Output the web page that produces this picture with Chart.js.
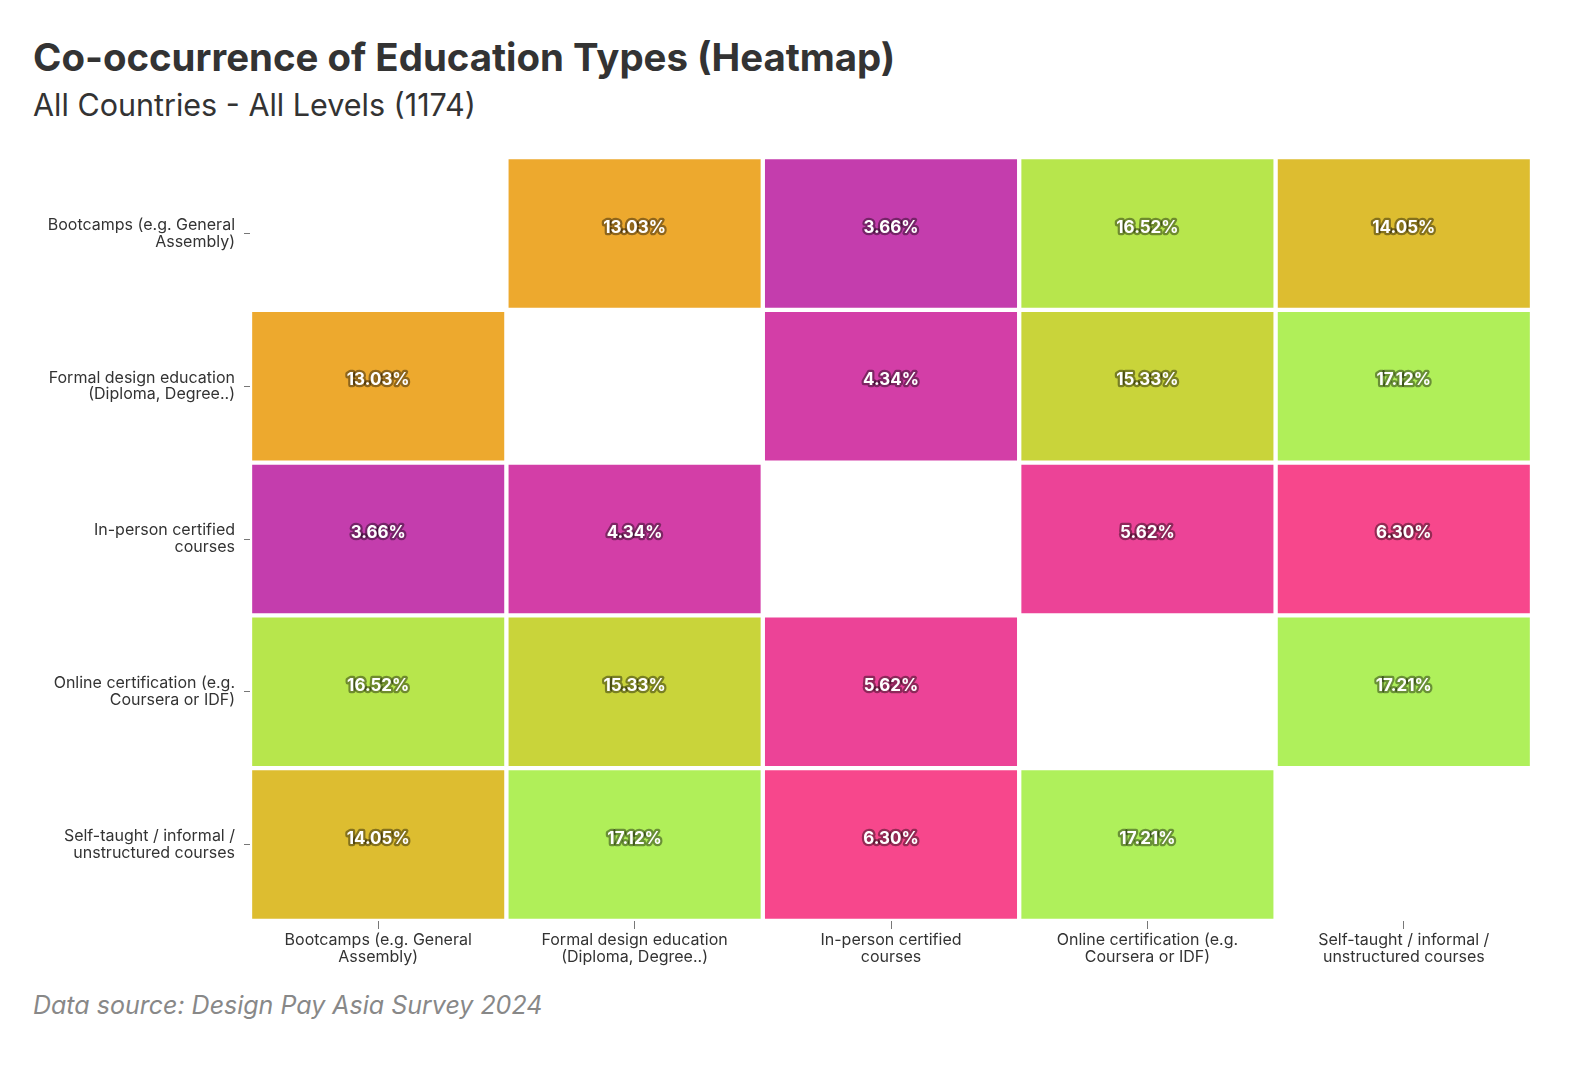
<!DOCTYPE html>
<html>
<head>
<meta charset="utf-8">
<script src="https://cdn.jsdelivr.net/npm/chart.js@4"></script>
<style>
  body { margin: 0; background: #fff; width: 1590px; height: 1084px; position: relative; overflow: hidden; font-family: Inter, "Noto Sans", sans-serif; }
  .txt { position: absolute; left: 33px; white-space: nowrap; line-height: 1; }
  #titulo { top: 38px; font-size: 38.4px; font-weight: 700; color: #333; }
  #subtitulo { top: 90px; font-size: 30.5px; color: #333; }
  #fuente { top: 993px; font-size: 25px; font-style: italic; color: #888; }
  #lienzo { position: absolute; left: 0; top: 140px; }
</style>
</head>
<body>
<div id="titulo" class="txt">Co-occurrence of Education Types (Heatmap)</div>
<div id="subtitulo" class="txt">All Countries - All Levels (1174)</div>
<canvas id="lienzo" width="1590" height="850"></canvas>
<div id="fuente" class="txt">Data source: Design Pay Asia Survey 2024</div>

<script>
// categorias (filas y columnas son las mismas)
const categorias = [
  'Bootcamps (e.g. General Assembly)',
  'Formal design education (Diploma, Degree..)',
  'In-person certified courses',
  'Online certification (e.g. Coursera or IDF)',
  'Self-taught / informal / unstructured courses'
];

// porcentajes de co-ocurrencia, una fila por categoria (null = diagonal)
const filaBootcamps = [null, 13.03, 3.66, 16.52, 14.05];
const filaFormal    = [13.03, null, 4.34, 15.33, 17.12];
const filaPresencial = [3.66, 4.34, null, 5.62, 6.30];
const filaOnline    = [16.52, 15.33, 5.62, null, 17.21];
const filaAutodidacta = [14.05, 17.12, 6.30, 17.21, null];

const filas = [filaBootcamps, filaFormal, filaPresencial, filaOnline, filaAutodidacta];

// partir etiquetas en dos lineas
function partir(texto, max) {
  const palabras = texto.split(' ');
  const lineas = [];
  let actual = '';
  palabras.forEach(p => {
    if (actual && (actual + ' ' + p).length > max) {
      lineas.push(actual);
      actual = p;
    } else {
      actual = actual ? actual + ' ' + p : p;
    }
  });
  if (actual) lineas.push(actual);
  return lineas;
}

// escala de color tipo d3.interpolateRainbow (cubehelix)
function arcoiris(t) {
  const ts = Math.abs(t - 0.5);
  const h = (360 * t - 100 + 120) * Math.PI / 180;
  const s = 1.5 - 1.5 * ts;
  const l = 0.8 - 0.9 * ts;
  const a = s * l * (1 - l);
  const c = Math.cos(h), sn = Math.sin(h);
  const lim = v => Math.max(0, Math.min(255, Math.round(v)));
  const r = lim(255 * (l + a * (-0.14861 * c + 1.78277 * sn)));
  const g = lim(255 * (l + a * (-0.29227 * c - 0.90649 * sn)));
  const b = lim(255 * (l + a * (1.97294 * c)));
  return `rgb(${r}, ${g}, ${b})`;
}

const maximo = Math.max(...filas.flat().filter(v => v != null));
const colorDe = v => arcoiris(v / (2 * maximo));

const datasets = filas.map((fila, i) => ({
  label: categorias[i],
  data: fila.map(v => v == null ? null : [i, i + 1]),
  valores: fila,
  backgroundColor: fila.map(v => v == null ? 'rgba(0,0,0,0)' : colorDe(v)),
  borderColor: '#fff',
  borderWidth: 2.5,
  borderSkipped: false,
  barPercentage: 1,
  categoryPercentage: 1,
  grouped: false
}));

// etiquetas dentro de cada celda
const etiquetasCeldas = {
  id: 'etiquetasCeldas',
  afterDatasetsDraw(chart) {
    const ctx = chart.ctx;
    ctx.save();
    ctx.font = 'bold 17px Inter, "Noto Sans", sans-serif';
    ctx.textAlign = 'center';
    ctx.textBaseline = 'middle';
    ctx.lineJoin = 'round';
    chart.data.datasets.forEach((ds, i) => {
      const meta = chart.getDatasetMeta(i);
      meta.data.forEach((barra, j) => {
        const v = ds.valores[j];
        if (v == null) return;
        const texto = v.toFixed(2) + '%';
        const y = (barra.y + barra.base) / 2 - 6;
        ctx.strokeStyle = 'rgba(0,0,0,0.4)';
        ctx.lineWidth = 4.5;
        ctx.strokeText(texto, barra.x, y);
        ctx.fillStyle = '#fff';
        ctx.fillText(texto, barra.x, y);
      });
    });
    ctx.restore();
  }
};

const fuenteEjes = { family: 'Inter, "Noto Sans", sans-serif', size: 16, lineHeight: 1.05 };

new Chart(document.getElementById('lienzo'), {
  type: 'bar',
  data: {
    labels: categorias.map(c => partir(c, 26)),
    datasets: datasets
  },
  options: {
    responsive: false,
    animation: false,
    events: [],
    layout: { padding: { top: 17, right: 58, bottom: 0, left: 0 } },
    plugins: {
      legend: { display: false },
      tooltip: { enabled: false }
    },
    scales: {
      x: {
        type: 'category',
        offset: true,
        border: { display: false },
        grid: { drawOnChartArea: false, drawTicks: true, tickLength: 8, offset: false, color: '#777' },
        ticks: { color: '#333', font: fuenteEjes, padding: 3, maxRotation: 0, autoSkip: false },
        afterFit: s => { s.height = 69; s.paddingLeft = 0; s.paddingRight = 0; }
      },
      y: {
        type: 'linear',
        min: 0,
        max: categorias.length,
        reverse: true,
        border: { display: false },
        grid: { drawOnChartArea: false, drawTicks: true, tickLength: 6, color: '#777' },
        afterBuildTicks: s => { s.ticks = categorias.map((c, i) => ({ value: i + 0.5 })); },
        ticks: {
          color: '#333',
          font: fuenteEjes,
          padding: 9,
          callback: v => partir(categorias[Math.floor(v)], 26)
        },
        afterFit: s => { s.width = 250; s.paddingTop = 0; s.paddingBottom = 0; }
      }
    }
  },
  plugins: [etiquetasCeldas]
});
</script>
</body>
</html>
